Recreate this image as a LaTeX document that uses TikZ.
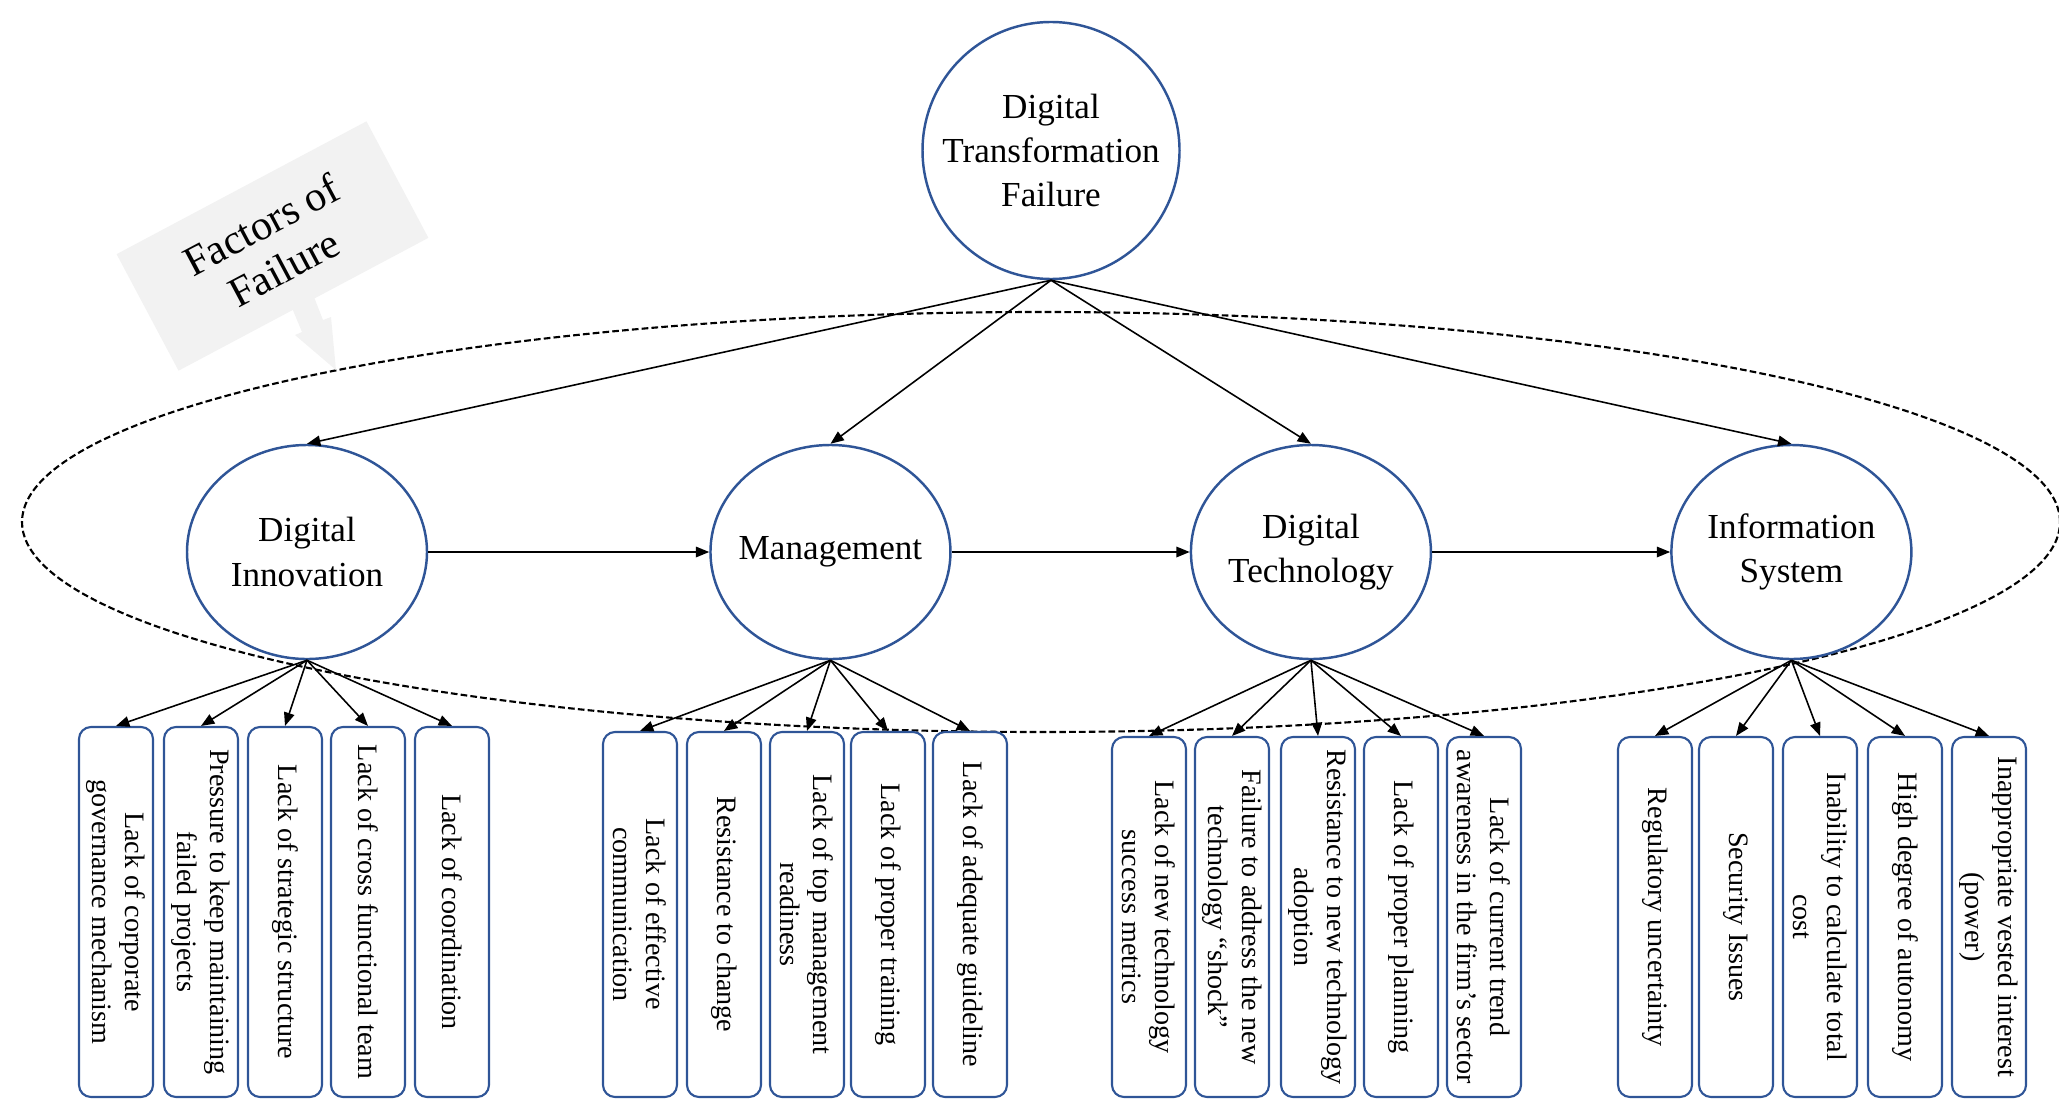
\documentclass[tikz,border=0pt]{standalone}
\usepackage{fontspec}
\setmainfont{Liberation Serif}
\usetikzlibrary{arrows.meta, positioning, shapes.geometric}
\definecolor{nodeblue}{HTML}{2F5597}
\definecolor{calloutgray}{HTML}{F2F2F2}

\begin{document}
\begin{tikzpicture}[
    >={Triangle[length=3.8pt,width=3pt]},
    main/.style={circle, draw=nodeblue, line width=0.7pt, minimum size=2.57cm,
        inner sep=0pt, align=center, font=\fontsize{10}{12.6}\selectfont},
    area/.style={ellipse, draw=nodeblue, line width=0.7pt, minimum width=2.40cm,
        minimum height=2.14cm, inner ysep=0pt, inner xsep=-4pt, align=center,
        font=\fontsize{10}{12.6}\selectfont},
    factor/.style={rectangle, rounded corners=0.12cm, draw=nodeblue, line width=0.6pt,
        rotate=-90, minimum width=#1, minimum height=0.74cm, inner sep=1pt,
        align=center, font=\fontsize{8}{9.5}\selectfont},
    factor/.default=3.60cm]

    \useasboundingbox (0,0) rectangle (20.59,-11.00);

    % dashed ring round the four areas
    \node[ellipse, draw, line width=0.6pt, dash pattern=on 1.9pt off 0.9pt,
        minimum width=20.38cm, minimum height=4.20cm] (ring) at (10.41,-5.22) {};

    % callout
    \node[fill=calloutgray, rotate=28, minimum width=2.83cm, minimum height=1.32cm,
        align=center, font=\fontsize{12}{13.8}\selectfont] (callout) at (2.725,-2.46) {Factors of\\Failure};
    \fill[calloutgray] (2.92,-3.08) -- (3.02,-3.32) -- (2.95,-3.35) -- (3.36,-3.70)
        -- (3.31,-3.17) -- (3.23,-3.20) -- (3.14,-2.97) -- cycle;

    \node[main] (dtf) at (10.51,-1.505) {Digital\\Transformation\\Failure};

    \node[area] (di) at (3.07,-5.52) {Digital\\Innovation};
    \node[area] (mg) [right=2.81cm of di] {Management};
    \node[area] (dt) [right=2.38cm of mg] {Digital\\Technology};
    \node[area] (is) [right=2.38cm of dt] {Information\\System};

    % digital innovation
    \node[factor=3.70cm] (di_1) at (1.16,-9.12) {Lack of corporate\\governance mechanism};
    \node[factor=3.70cm] (di_2) at (2.01,-9.12) {Pressure to keep maintaining\\failed projects};
    \node[factor=3.70cm] (di_3) at (2.85,-9.12) {Lack of strategic structure};
    \node[factor=3.70cm] (di_4) at (3.68,-9.12) {Lack of cross functional team};
    \node[factor=3.70cm] (di_5) at (4.52,-9.12) {Lack of coordination};

    % management
    \node[factor=3.65cm] (mg_1) at (6.40,-9.145) {Lack of effective\\communication};
    \node[factor=3.65cm] (mg_2) at (7.24,-9.145) {Resistance to change};
    \node[factor=3.65cm] (mg_3) at (8.07,-9.145) {Lack of top management\\readiness};
    \node[factor=3.65cm] (mg_4) at (8.88,-9.145) {Lack of proper training};
    \node[factor=3.65cm] (mg_5) at (9.70,-9.145) {Lack of adequate guideline};

    % digital technology
    \node[factor] (dt_1) at (11.49,-9.17) {Lack of new technology\\success metrics};
    \node[factor] (dt_2) at (12.32,-9.17) {Failure to address the new\\technology “shock”};
    \node[factor] (dt_3) at (13.18,-9.17) {Resistance to new technology\\adoption};
    \node[factor] (dt_4) at (14.01,-9.17) {Lack of proper planning};
    \node[factor] (dt_5) at (14.84,-9.17) {Lack of current trend\\awareness in the firm’s sector};

    % information system
    \node[factor] (is_1) at (16.55,-9.17) {Regulatory uncertainty};
    \node[factor] (is_2) at (17.36,-9.17) {Security Issues};
    \node[factor] (is_3) at (18.20,-9.17) {Inability to calculate total\\cost};
    \node[factor] (is_4) at (19.05,-9.17) {High degree of autonomy};
    \node[factor] (is_5) at (19.89,-9.17) {Inappropriate vested interest\\(power)};

    \path[->, line width=0.45pt]
    (dtf.south) edge (di.north)
    (dtf.south) edge (mg.north)
    (dtf.south) edge (dt.north)
    (dtf.south) edge (is.north)
    (di) edge (mg)
    (mg) edge (dt)
    (dt) edge (is)
    (di.south) edge (di_1.west)
    (di.south) edge (di_2.west)
    (di.south) edge (di_3.west)
    (di.south) edge (di_4.west)
    (di.south) edge (di_5.west)
    (mg.south) edge (mg_1.west)
    (mg.south) edge (mg_2.west)
    (mg.south) edge (mg_3.west)
    (mg.south) edge (mg_4.west)
    (mg.south) edge (mg_5.west)
    (dt.south) edge (dt_1.west)
    (dt.south) edge (dt_2.west)
    (dt.south) edge (dt_3.west)
    (dt.south) edge (dt_4.west)
    (dt.south) edge (dt_5.west)
    (is.south) edge (is_1.west)
    (is.south) edge (is_2.west)
    (is.south) edge (is_3.west)
    (is.south) edge (is_4.west)
    (is.south) edge (is_5.west)
    ;
\end{tikzpicture}
\end{document}
